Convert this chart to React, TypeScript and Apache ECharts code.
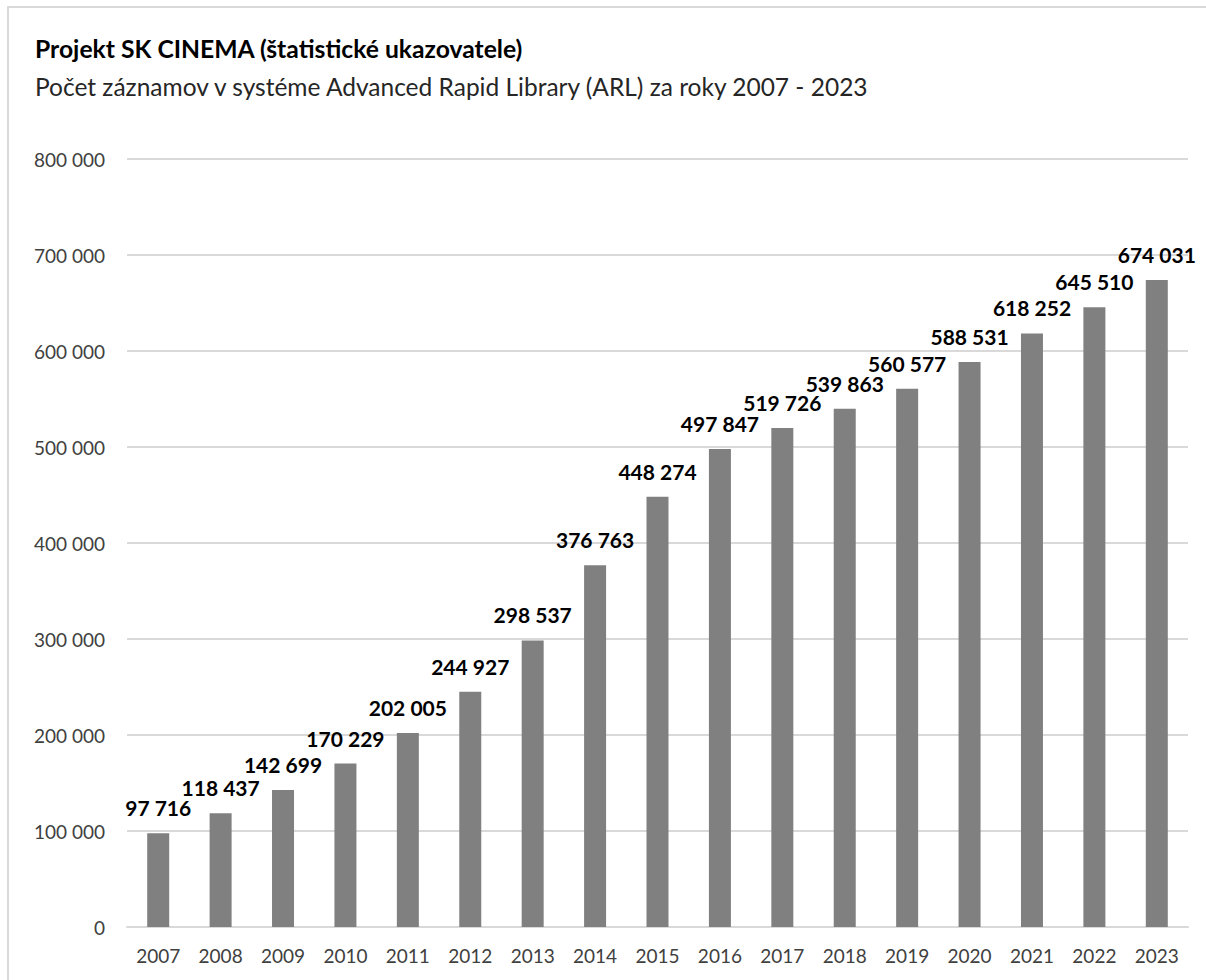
import React, { useEffect, useRef } from "react";
import * as echarts from "echarts";

const years = ["2007","2008","2009","2010","2011","2012","2013","2014","2015","2016","2017","2018","2019","2020","2021","2022","2023"];
const records = [97716,118437,142699,170229,202005,244927,298537,376763,448274,497847,519726,539863,560577,588531,618252,645510,674031];

const titleText = "Projekt SK CINEMA (štatistické ukazovatele)";
const subtitleText = "Počet záznamov v systéme Advanced Rapid Library (ARL) za roky 2007 - 2023";

const fmt = (v: number) => String(Math.round(v)).replace(/\B(?=(\d{3})+(?!\d))/g, " ");

const FONT = "Lato, 'Open Sans', sans-serif";

export default function App() {
  const ref = useRef<HTMLDivElement>(null);
  useEffect(() => {
    if (!ref.current) return;
    const chart = echarts.init(ref.current, undefined, { renderer: "svg" });
    chart.setOption({
      animation: false,
      backgroundColor: "#ffffff",
      textStyle: { fontFamily: FONT },
      graphic: [
        { type: "rect", shape: { x: 8, y: 7, width: 1220, height: 1000 }, style: { fill: "none", stroke: "#d9d9d9", lineWidth: 2 }, z: -1 },
        { type: "text", left: 35, top: 36, style: { text: titleText, fontFamily: FONT, fontSize: 24.7, fontWeight: "bold", fill: "#000000" } },
        { type: "text", left: 35, top: 74, style: { text: subtitleText, fontFamily: FONT, fontSize: 24.5, fill: "#262626" } },
      ],
      grid: { left: 127, right: 18, top: 159, bottom: 53 },
      xAxis: {
        type: "category",
        data: years,
        axisLine: { show: true, lineStyle: { color: "#d9d9d9", width: 2 } },
        axisTick: { show: false },
        axisLabel: { color: "#404040", fontSize: 19, margin: 19, fontFamily: FONT },
      },
      yAxis: {
        type: "value",
        min: 0,
        max: 800000,
        interval: 100000,
        axisLine: { show: false },
        axisTick: { show: false },
        splitLine: { lineStyle: { color: "#d9d9d9", width: 2 } },
        axisLabel: { color: "#404040", fontSize: 19, margin: 22, fontFamily: FONT, formatter: (v: number) => fmt(v) },
      },
      series: [
        {
          type: "bar",
          data: records,
          barWidth: 22,
          itemStyle: { color: "#808080" },
          label: {
            show: true,
            position: "top",
            distance: 15,
            color: "#000000",
            fontSize: 21,
            fontWeight: "bold",
            fontFamily: FONT,
            formatter: (p: any) => fmt(p.value),
          },
        },
      ],
    });
    return () => chart.dispose();
  }, []);
  return <div ref={ref} style={{ position: "fixed", left: 0, top: 0, width: 1206, height: 980 }} />;
}
